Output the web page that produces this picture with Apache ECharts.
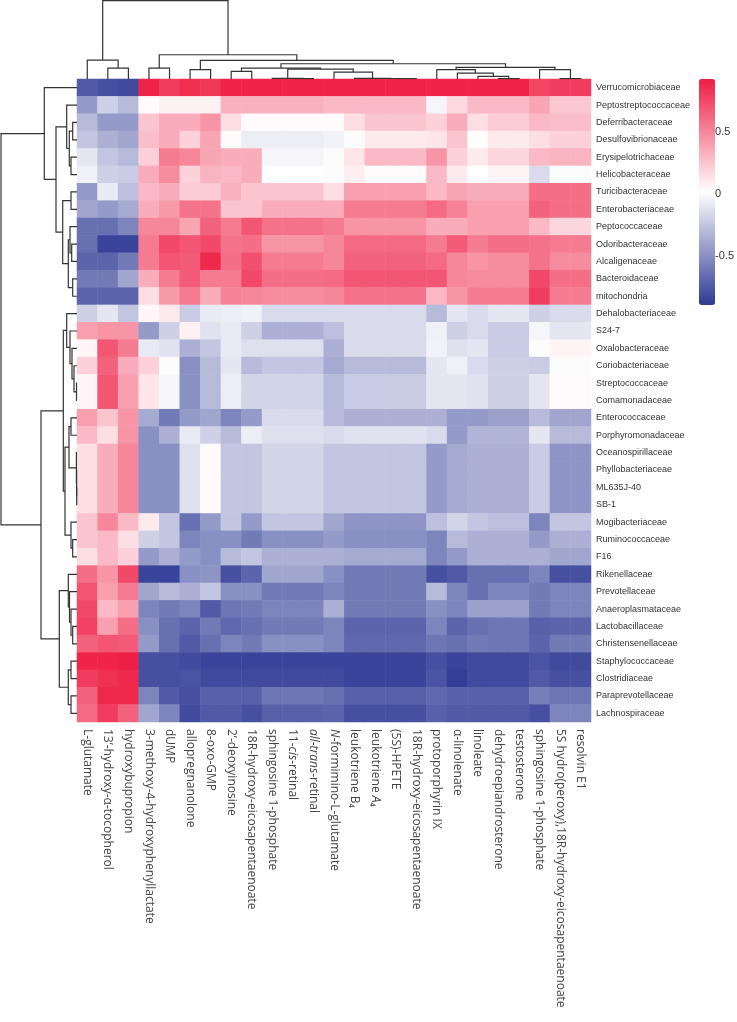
<!DOCTYPE html>
<html><head><meta charset="utf-8">
<script src="https://cdn.jsdelivr.net/npm/echarts@6/dist/echarts.min.js"></script>
<style>html,body{margin:0;padding:0;background:#fff}#c{width:737px;height:1022px}</style>
</head><body><div id="c"></div>
<script>
const colNames = ['L-glutamate','13’-hydroxy-α-tocopherol','hydroxybupropion','3-methoxy-4-hydroxyphenyllactate','dUMP','allopregnanolone','8-oxo-GMP','2’-deoxyinosine','18R-hydroxy-eicosapentaenoate','sphingosine 1-phosphate','11-{i|cis}-retinal','{i|all-trans}-retinal','{i|N}-formimino-L-glutamate','leukotriene B₄','leukotriene {i|A}₄','(5S)-HPETE','18R-hydroxy-eicosapentaenoate','protoporphyrin IX','α-linolenate','linoleate','dehydroepiandrosterone','testosterone','sphingosine 1-phosphate','5S hydro(peroxy),18R-hydroxy-eicosapentaenoate','resolvin E1'];
const rowNames = ['Verrucomicrobiaceae','Peptostreptococcaceae','Deferribacteraceae','Desulfovibrionaceae','Erysipelotrichaceae','Helicobacteraceae','Turicibacteraceae','Enterobacteriaceae','Peptococcaceae','Odoribacteraceae','Alcaligenaceae','Bacteroidaceae','mitochondria','Dehalobacteriaceae','S24-7','Oxalobacteraceae','Coriobacteriaceae','Streptococcaceae','Comamonadaceae','Enterococcaceae','Porphyromonadaceae','Oceanospirillaceae','Phyllobacteriaceae','ML635J-40','SB-1','Mogibacteriaceae','Ruminococcaceae','F16','Rikenellaceae','Prevotellaceae','Anaeroplasmataceae','Lactobacillaceae','Christensenellaceae','Staphylococcaceae','Clostridiaceae','Paraprevotellaceae','Lachnospiraceae'];
// correlation values, one array per row (bacteria), 25 columns (metabolites)
const values = [
[-0.75,-0.8,-0.82,0.9,0.8,0.86,0.82,0.9,0.9,0.9,0.9,0.9,0.9,0.9,0.9,0.9,0.9,0.9,0.9,0.9,0.9,0.9,0.76,0.8,0.8],
[-0.45,-0.2,-0.3,0.03,0.07,0.07,0.07,0.33,0.33,0.33,0.33,0.33,0.3,0.3,0.3,0.3,0.3,-0.03,0.17,0.3,0.3,0.3,0.38,0.24,0.24],
[-0.3,-0.45,-0.45,0.25,0.35,0.35,0.45,0.15,0.03,0.03,0.03,0.03,0.03,0.15,0.25,0.25,0.25,0.2,0.35,0.15,0.22,0.22,0.3,0.28,0.28],
[-0.25,-0.35,-0.4,0.28,0.35,0.2,0.38,0.03,-0.07,-0.07,-0.07,-0.07,-0.04,0.0,0.1,0.1,0.1,0.12,0.25,0.02,0.1,0.1,0.15,0.2,0.2],
[-0.1,-0.25,-0.3,0.2,0.55,0.5,0.38,0.35,0.35,-0.03,-0.03,-0.03,0.0,0.12,0.3,0.3,0.3,0.45,0.2,0.1,0.18,0.18,0.3,0.32,0.32],
[-0.05,-0.2,-0.22,0.35,0.48,0.2,0.32,0.3,0.35,0.02,0.02,0.02,0.0,0.08,0.03,0.03,0.03,0.3,0.1,0.02,0.06,0.06,-0.15,0.0,0.0],
[-0.45,-0.08,-0.28,0.3,0.35,0.22,0.22,0.33,0.25,0.25,0.25,0.25,0.15,0.4,0.4,0.4,0.4,0.3,0.38,0.35,0.35,0.35,0.6,0.6,0.6],
[-0.4,-0.45,-0.38,0.35,0.42,0.58,0.58,0.25,0.25,0.35,0.35,0.35,0.35,0.55,0.55,0.55,0.55,0.62,0.52,0.4,0.4,0.4,0.65,0.6,0.6],
[-0.65,-0.65,-0.55,0.5,0.5,0.38,0.65,0.55,0.7,0.58,0.58,0.58,0.55,0.45,0.45,0.45,0.45,0.35,0.35,0.4,0.4,0.4,0.3,0.18,0.18],
[-0.65,-0.85,-0.85,0.55,0.75,0.7,0.75,0.58,0.6,0.45,0.45,0.45,0.5,0.62,0.62,0.62,0.62,0.55,0.68,0.55,0.6,0.6,0.58,0.55,0.55],
[-0.7,-0.7,-0.6,0.55,0.7,0.68,0.88,0.6,0.72,0.55,0.55,0.55,0.5,0.65,0.65,0.65,0.65,0.62,0.5,0.45,0.48,0.48,0.58,0.48,0.48],
[-0.6,-0.6,-0.4,0.35,0.55,0.68,0.55,0.55,0.75,0.6,0.6,0.6,0.62,0.7,0.7,0.7,0.7,0.7,0.5,0.48,0.48,0.48,0.75,0.6,0.6],
[-0.7,-0.7,-0.7,0.15,0.42,0.55,0.35,0.52,0.5,0.48,0.48,0.48,0.5,0.58,0.58,0.58,0.58,0.3,0.45,0.55,0.55,0.55,0.8,0.55,0.55],
[-0.2,-0.1,-0.25,0.05,0.1,-0.22,-0.08,-0.07,-0.05,-0.15,-0.15,-0.15,-0.15,-0.15,-0.15,-0.15,-0.15,-0.3,-0.1,-0.15,-0.1,-0.1,-0.2,-0.15,-0.15],
[0.4,0.45,0.45,-0.45,-0.2,0.07,-0.12,-0.08,-0.2,-0.35,-0.35,-0.35,-0.28,-0.15,-0.15,-0.15,-0.15,-0.05,-0.2,-0.15,-0.22,-0.22,-0.03,-0.1,-0.1],
[0.05,0.7,0.55,-0.08,-0.12,-0.35,-0.25,-0.08,-0.13,-0.13,-0.13,-0.13,-0.35,-0.15,-0.15,-0.15,-0.15,-0.04,-0.13,-0.1,-0.22,-0.22,0.0,0.06,0.06],
[0.2,0.65,0.35,0.2,0.0,-0.5,-0.3,-0.1,-0.3,-0.25,-0.25,-0.25,-0.38,-0.3,-0.3,-0.3,-0.3,-0.1,-0.05,-0.15,-0.2,-0.2,-0.22,0.0,0.0],
[0.05,0.7,0.4,0.12,-0.03,-0.5,-0.3,-0.07,-0.18,-0.18,-0.18,-0.18,-0.3,-0.22,-0.22,-0.22,-0.22,-0.1,-0.1,-0.12,-0.2,-0.2,-0.1,0.03,0.03],
[0.05,0.7,0.4,0.12,-0.03,-0.5,-0.3,-0.07,-0.18,-0.18,-0.18,-0.18,-0.3,-0.22,-0.22,-0.22,-0.22,-0.1,-0.1,-0.12,-0.2,-0.2,-0.1,0.03,0.03],
[0.4,0.25,0.45,-0.38,-0.6,-0.45,-0.4,-0.55,-0.45,-0.15,-0.15,-0.15,-0.3,-0.35,-0.35,-0.35,-0.35,-0.35,-0.45,-0.45,-0.42,-0.42,-0.3,-0.4,-0.4],
[0.3,0.15,0.45,-0.5,-0.35,-0.08,-0.2,-0.3,-0.07,-0.13,-0.13,-0.13,-0.15,-0.12,-0.12,-0.12,-0.12,-0.15,-0.45,-0.33,-0.33,-0.33,-0.1,-0.3,-0.3],
[0.15,0.35,0.5,-0.5,-0.5,-0.13,0.03,-0.25,-0.25,-0.18,-0.18,-0.18,-0.25,-0.25,-0.25,-0.25,-0.25,-0.45,-0.38,-0.35,-0.35,-0.35,-0.22,-0.48,-0.48],
[0.15,0.35,0.5,-0.5,-0.5,-0.13,0.03,-0.25,-0.25,-0.18,-0.18,-0.18,-0.25,-0.25,-0.25,-0.25,-0.25,-0.45,-0.38,-0.35,-0.35,-0.35,-0.22,-0.48,-0.48],
[0.15,0.35,0.5,-0.5,-0.5,-0.13,0.03,-0.25,-0.25,-0.18,-0.18,-0.18,-0.25,-0.25,-0.25,-0.25,-0.25,-0.45,-0.38,-0.35,-0.35,-0.35,-0.22,-0.48,-0.48],
[0.15,0.35,0.5,-0.5,-0.5,-0.13,0.03,-0.25,-0.25,-0.18,-0.18,-0.18,-0.25,-0.25,-0.25,-0.25,-0.25,-0.45,-0.38,-0.35,-0.35,-0.35,-0.22,-0.48,-0.48],
[0.25,0.5,0.3,0.1,-0.25,-0.65,-0.45,-0.25,-0.45,-0.25,-0.25,-0.25,-0.4,-0.48,-0.48,-0.48,-0.48,-0.28,-0.18,-0.25,-0.28,-0.28,-0.55,-0.25,-0.25],
[0.25,0.3,0.15,-0.2,-0.25,-0.55,-0.5,-0.5,-0.6,-0.5,-0.5,-0.5,-0.45,-0.5,-0.5,-0.5,-0.5,-0.55,-0.3,-0.35,-0.35,-0.35,-0.45,-0.35,-0.35],
[0.15,0.3,0.2,-0.45,-0.35,-0.45,-0.5,-0.3,-0.25,-0.35,-0.35,-0.35,-0.35,-0.38,-0.38,-0.38,-0.38,-0.55,-0.45,-0.35,-0.35,-0.35,-0.35,-0.4,-0.4],
[0.6,0.45,0.75,-0.85,-0.85,-0.5,-0.48,-0.8,-0.7,-0.4,-0.4,-0.4,-0.5,-0.6,-0.6,-0.6,-0.6,-0.8,-0.75,-0.65,-0.65,-0.65,-0.55,-0.8,-0.8],
[0.7,0.4,0.55,-0.4,-0.3,-0.35,-0.25,-0.5,-0.5,-0.6,-0.6,-0.6,-0.55,-0.6,-0.6,-0.6,-0.6,-0.3,-0.55,-0.65,-0.55,-0.55,-0.6,-0.55,-0.55],
[0.75,0.3,0.4,-0.55,-0.6,-0.55,-0.75,-0.62,-0.6,-0.55,-0.55,-0.55,-0.35,-0.6,-0.6,-0.6,-0.6,-0.5,-0.55,-0.42,-0.42,-0.42,-0.6,-0.55,-0.55],
[0.78,0.4,0.6,-0.5,-0.65,-0.7,-0.6,-0.68,-0.65,-0.6,-0.6,-0.6,-0.55,-0.7,-0.7,-0.7,-0.7,-0.55,-0.7,-0.65,-0.62,-0.62,-0.72,-0.7,-0.7],
[0.65,0.7,0.68,-0.45,-0.65,-0.75,-0.65,-0.55,-0.6,-0.5,-0.5,-0.5,-0.55,-0.68,-0.68,-0.68,-0.68,-0.62,-0.65,-0.6,-0.62,-0.62,-0.7,-0.6,-0.6],
[0.9,0.9,0.92,-0.8,-0.8,-0.82,-0.85,-0.85,-0.85,-0.85,-0.85,-0.85,-0.85,-0.85,-0.85,-0.85,-0.85,-0.8,-0.85,-0.82,-0.82,-0.82,-0.78,-0.82,-0.82],
[0.8,0.85,0.88,-0.8,-0.8,-0.78,-0.82,-0.82,-0.82,-0.82,-0.82,-0.82,-0.82,-0.85,-0.85,-0.85,-0.85,-0.78,-0.88,-0.82,-0.82,-0.82,-0.75,-0.8,-0.8],
[0.65,0.88,0.88,-0.55,-0.75,-0.8,-0.72,-0.72,-0.72,-0.62,-0.62,-0.62,-0.65,-0.72,-0.72,-0.72,-0.72,-0.68,-0.72,-0.72,-0.72,-0.72,-0.58,-0.62,-0.62],
[0.62,0.8,0.65,-0.4,-0.55,-0.82,-0.75,-0.75,-0.8,-0.72,-0.72,-0.72,-0.7,-0.8,-0.8,-0.8,-0.8,-0.72,-0.75,-0.75,-0.75,-0.75,-0.8,-0.55,-0.55]
];
// dendrograms: [left, right, height]; leaves are column / row indices
const colTree = [[0,[1,2,33],57],[[3,4,33],[[5,6,28],[[[7,8,23],[[9,[10,11,1],2],[12,[13,[14,[15,16,1],1.5],2],21],30],33],[[17,[18,[19,[20,21,1],8],18],28],[22,[23,24,1],28],35],46],56],73],236];
const rowUpper = [0,[[1,[[2,3,4.3],[4,5,6],7.7],10.3],[[6,7,6],[[8,[9,10,5.3],7],[11,12,4.3],8.7],14.3],21],32.7];
const rowMiddle = [[13,[14,[15,[16,[17,18,0.5],3],5],7],10.3],[[[19,20,6],[21,[22,[23,24,0.3],0.4],0.6],8],[25,[26,27,4.3],6],12],13.7];
const rowLower = [[28,[29,[30,[31,32,4.3],6],7.5],8.7],[[33,34,6],[35,36,6],8.7],17.7];
const rowTree = [rowUpper,[rowMiddle,rowLower,36],76];
const colorTicks = [-0.5, 0, 0.5];
const colorMin = -0.9, colorMax = 0.93;

function layout(node, segs) {
  if (typeof node === 'number') return {p: node + 0.5, h: 0};
  const a = layout(node[0], segs), b = layout(node[1], segs), h = node[2];
  segs.push([[a.p, a.h], [a.p, h], [b.p, h], [b.p, b.h]]);
  return {p: (a.p + b.p) / 2, h: h};
}
const colSegs = []; layout(colTree, colSegs);
const rowSegs = []; layout(rowTree, rowSegs);

const heatData = [];
values.forEach((row, r) => row.forEach((v, c) => heatData.push([c, r, v])));

const L = 77, T = 79, W = 514, H = 643;
const chart = echarts.init(document.getElementById('c'));
const lineStyle = {color: '#333', width: 1.2, opacity: 1};
chart.setOption({
  animation: false,
  grid: [
    {left: L, top: T, width: W, height: H},
    {left: L, top: 0, width: W, height: T},
    {left: 0, top: T, width: L, height: H},
    {left: 699, top: 194 - 123.5, width: 16, height: 247}
  ],
  xAxis: [
    {type: 'category', gridIndex: 0, data: colNames, position: 'bottom',
      axisLine: {show: false}, axisTick: {show: false},
      axisLabel: {interval: 0, rotate: -90, margin: 7, fontSize: 12, fontFamily: 'Open Sans', color: '#444',
        rich: {i: {fontStyle: 'italic', fontSize: 12, fontFamily: 'Open Sans', color: '#444'}}}},
    {type: 'value', gridIndex: 1, min: 0, max: 25, show: false},
    {type: 'value', gridIndex: 2, min: 0, max: 77, inverse: true, show: false},
    {type: 'category', gridIndex: 3, data: [''], show: false}
  ],
  yAxis: [
    {type: 'category', gridIndex: 0, data: rowNames, inverse: true, position: 'right',
      axisLine: {show: false}, axisTick: {show: false},
      axisLabel: {interval: 0, margin: 5, fontSize: 9, fontFamily: 'Liberation Sans', color: '#333'}},
    {type: 'value', gridIndex: 1, min: 0, max: 238, show: false},
    {type: 'value', gridIndex: 2, min: 0, max: 37, inverse: true, show: false},
    {type: 'value', gridIndex: 3, min: -1, max: 1, interval: 0.5, position: 'right',
      axisLine: {show: false}, axisTick: {show: false}, splitLine: {show: false},
      axisLabel: {margin: 4, fontSize: 11, fontFamily: 'Liberation Sans', color: '#333',
        formatter: v => colorTicks.some(t => Math.abs(t - v) < 1e-9) ? String(v) : ''}}
  ],
  visualMap: {
    type: 'continuous', seriesIndex: 0, min: colorMin, max: colorMax, calculable: false,
    orient: 'vertical', left: 699, top: 79, itemWidth: 16, itemHeight: 226, padding: 0,
    text: null, showLabel: false, hoverLink: false,
    inRange: {color: ['#2E3A94', '#FFFFFF', '#EE1D42']}
  },
  series: [
    {type: 'heatmap', xAxisIndex: 0, yAxisIndex: 0, data: heatData, emphasis: {disabled: true}, progressive: 0},
    {type: 'lines', coordinateSystem: 'cartesian2d', xAxisIndex: 1, yAxisIndex: 1, polyline: true, silent: true,
      lineStyle: lineStyle, data: colSegs.map(s => ({coords: s}))},
    {type: 'lines', coordinateSystem: 'cartesian2d', xAxisIndex: 2, yAxisIndex: 2, polyline: true, silent: true,
      lineStyle: lineStyle, data: rowSegs.map(s => ({coords: s.map(p => [p[1], p[0]])}))}
  ]
});
</script></body></html>
